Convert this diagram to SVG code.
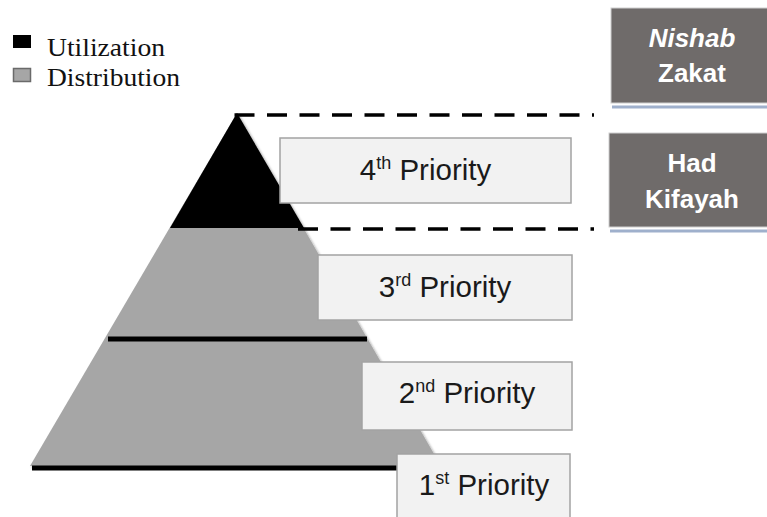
<svg xmlns="http://www.w3.org/2000/svg" width="767" height="517" viewBox="0 0 767 517">
  <style>
    .legend { font-family: "Liberation Serif", "Times New Roman", serif; font-size: 26px; fill: #111; }
    .prio-box { fill: #f2f2f2; stroke: #a3a3a3; stroke-width: 1.5; }
    .prio-text { font-family: "Liberation Sans", Arial, sans-serif; font-size: 29.5px; fill: #1a1a1a; text-anchor: middle; }
    .sup { font-size: 18px; }
    .dark-box { fill: #6f6b6a; stroke: #d0d0d0; stroke-width: 1; }
    .dark-text { font-family: "Liberation Sans", Arial, sans-serif; font-size: 26px; font-weight: bold; fill: #ffffff; text-anchor: middle; }
    .underline { stroke: #9fb0cc; stroke-width: 3; }
    .thick { stroke: #000; stroke-width: 5; }
    .dash { stroke: #000; stroke-width: 3.5; stroke-dasharray: 20 12.5; fill: none; }
  </style>
  <defs>
    <filter id="shadow" x="-10%" y="-10%" width="120%" height="120%">
      <feDropShadow dx="1.5" dy="1.5" stdDeviation="1" flood-color="#000" flood-opacity="0.35"/>
    </filter>
  </defs>
  <rect width="767" height="517" fill="#ffffff"/>

  <g id="legend">
    <rect x="13" y="35" width="18" height="13" fill="#000"/>
    <rect x="13.5" y="68.5" width="17" height="13" fill="#a6a6a6" stroke="#6a6a6a" stroke-width="1.5"/>
    <text class="legend" x="47" y="56" textLength="118" lengthAdjust="spacingAndGlyphs">Utilization</text>
    <text class="legend" x="47" y="86" textLength="133" lengthAdjust="spacingAndGlyphs">Distribution</text>
  </g>

  <g id="pyramid" filter="url(#shadow)">
    <polygon points="237,113 30,466 441,466" fill="#a6a6a6"/>
    <polygon points="237,113 170,228 304,228" fill="#000"/>
  </g>

  <g id="connectors">
    <line class="thick" x1="108" y1="339" x2="367" y2="339"/>
    <line class="thick" x1="32" y1="468" x2="400" y2="468"/>
    <line class="dash" x1="234.5" y1="115" x2="594" y2="115"/>
    <line class="dash" x1="298" y1="229" x2="594" y2="229"/>
  </g>

  <g id="priority-4">
    <rect class="prio-box" x="280" y="138" width="291" height="65"/>
    <text class="prio-text" x="425.5" y="180">4<tspan class="sup" dy="-11">th</tspan><tspan dy="11"> Priority</tspan></text>
  </g>
  <g id="priority-3">
    <rect class="prio-box" x="318" y="255" width="254" height="65"/>
    <text class="prio-text" x="445" y="297">3<tspan class="sup" dy="-11">rd</tspan><tspan dy="11"> Priority</tspan></text>
  </g>
  <g id="priority-2">
    <rect class="prio-box" x="362" y="362" width="210" height="68"/>
    <text class="prio-text" x="467" y="403">2<tspan class="sup" dy="-11">nd</tspan><tspan dy="11"> Priority</tspan></text>
  </g>
  <g id="priority-1">
    <rect class="prio-box" x="397" y="454" width="173" height="70"/>
    <text class="prio-text" x="484" y="495">1<tspan class="sup" dy="-11">st</tspan><tspan dy="11"> Priority</tspan></text>
  </g>

  <g id="nishab-zakat">
    <rect class="dark-box" x="611" y="8" width="160" height="95"/>
    <line class="underline" x1="612" y1="107" x2="767" y2="107"/>
    <text class="dark-text" x="692" y="47"><tspan font-style="italic">Nishab</tspan></text>
    <text class="dark-text" x="692" y="82">Zakat</text>
  </g>

  <g id="had-kifayah">
    <rect class="dark-box" x="609" y="133" width="162" height="94"/>
    <line class="underline" x1="610" y1="231" x2="767" y2="231"/>
    <text class="dark-text" x="692" y="172">Had</text>
    <text class="dark-text" x="692" y="208">Kifayah</text>
  </g>
</svg>
